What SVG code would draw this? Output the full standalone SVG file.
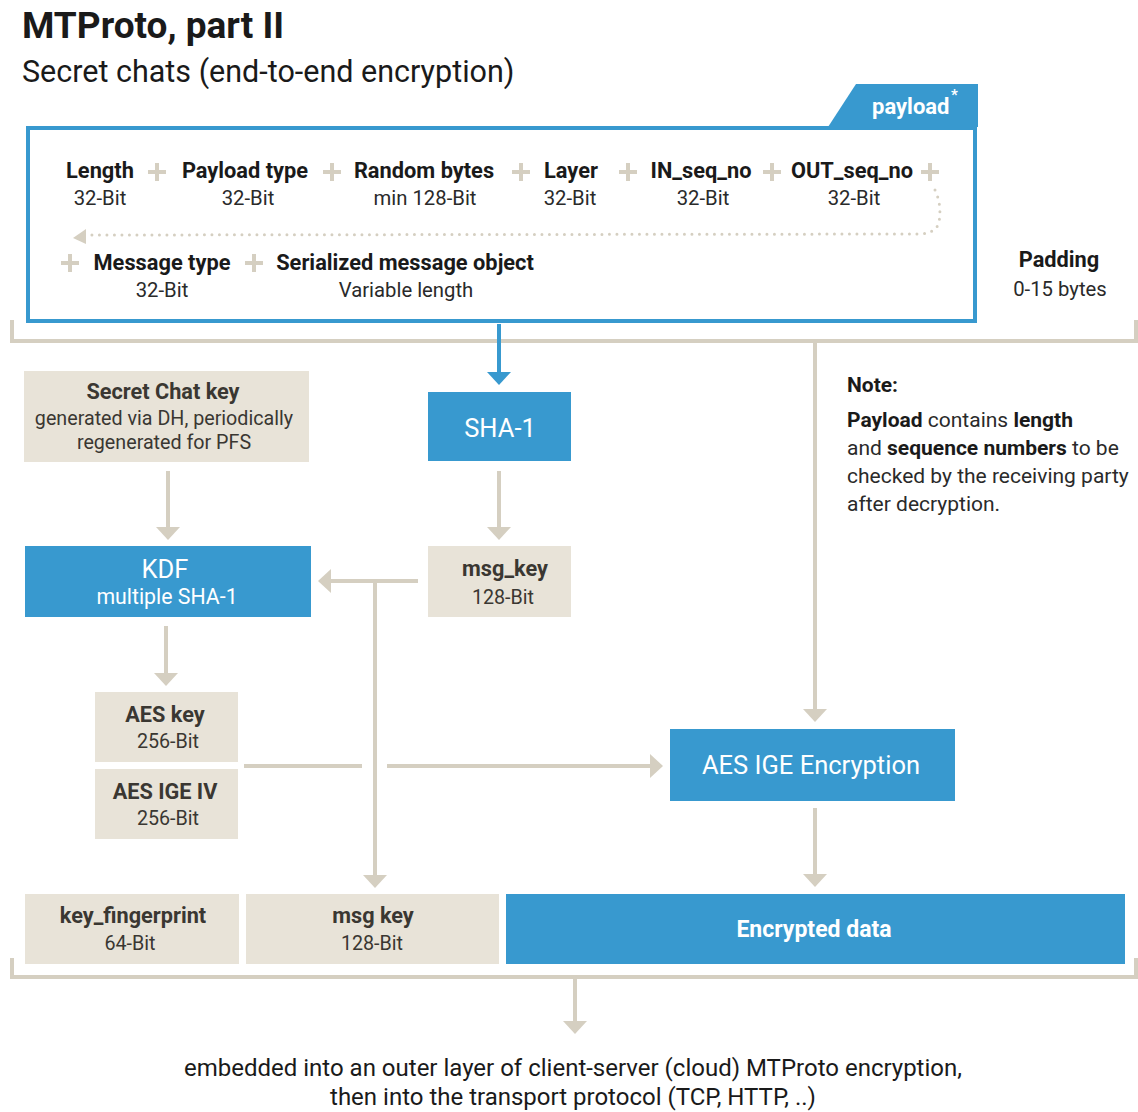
<svg xmlns="http://www.w3.org/2000/svg" width="1138" height="1112" viewBox="0 0 1138 1112">
<style>
text{font-family:Roboto,"Liberation Sans",sans-serif;}
.ttl{font-size:37px;font-weight:bold;fill:#1a1a1a;}
.sub{font-size:30.5px;fill:#1a1a1a;}
.lb{font-size:21.8px;font-weight:bold;fill:#1a1a1a;text-anchor:middle;}
.sm{font-size:20.3px;fill:#2a2a2a;text-anchor:middle;}
.tb{font-size:21.7px;font-weight:bold;fill:#3a3732;text-anchor:middle;}
.ts{font-size:19.7px;fill:#3a3732;text-anchor:middle;}
.wb{font-size:25.5px;fill:#fff;text-anchor:middle;}
.wd{font-size:23px;font-weight:bold;fill:#fff;text-anchor:middle;}
.ws{font-size:21.3px;fill:#fff;text-anchor:middle;}
.note{font-size:21px;fill:#2a2a2a;}
.b{font-weight:bold;fill:#1a1a1a;}
.tan{fill:#e8e3d8;}
.blue{fill:#3899cf;}
.ln{stroke:#d5cfc1;stroke-width:4;fill:none;}
.plus{stroke:#d5cfc1;stroke-width:4;fill:none;}
.bot{font-size:24px;fill:#1a1a1a;text-anchor:middle;}
</style>
<defs>
<marker id="at" markerUnits="userSpaceOnUse" viewBox="0 0 13 24" markerWidth="13" markerHeight="24" refX="0" refY="12" orient="auto"><path d="M0,0 L13,12 L0,24 z" fill="#d5cfc1"/></marker>
<marker id="ab" markerUnits="userSpaceOnUse" viewBox="0 0 13 24" markerWidth="13" markerHeight="24" refX="0" refY="12" orient="auto"><path d="M0,0 L13,12 L0,24 z" fill="#3899cf"/></marker>
</defs>
<rect width="1138" height="1112" fill="#fff"/>
<text class="ttl" x="22" y="38">MTProto, part II</text>
<text class="sub" x="22" y="82">Secret chats (end-to-end encryption)</text>

<g id="connectors">
<path class="ln" d="M12,320 V341 H1136 V320"/>
<path class="ln" d="M12,958 V977 H1136 V958"/>
<path d="M499,324 V372" stroke="#3899cf" stroke-width="4" fill="none" marker-end="url(#ab)"/>
<path class="ln" d="M168,471 V527" marker-end="url(#at)"/>
<path class="ln" d="M499,471 V527" marker-end="url(#at)"/>
<path class="ln" d="M418,581 H331" marker-end="url(#at)"/>
<path class="ln" d="M375,581 V875" marker-end="url(#at)"/>
<path class="ln" d="M166,626 V673" marker-end="url(#at)"/>
<path class="ln" d="M244,766 H362"/>
<path class="ln" d="M387,766 H650" marker-end="url(#at)"/>
<path class="ln" d="M815,341 V709" marker-end="url(#at)"/>
<path class="ln" d="M815,808 V874" marker-end="url(#at)"/>
<path class="ln" d="M575,977 V1021" marker-end="url(#at)"/>
</g>

<g id="payload">
<path d="M828,127 L856,84 H978 V127 z" class="blue"/>
<rect x="28" y="128" width="947" height="193" fill="none" stroke="#3899cf" stroke-width="4"/>
<text x="872" y="114" font-size="22" font-weight="bold" fill="#fff">payload</text>
<text x="951" y="100" font-size="15" font-weight="bold" fill="#fff">*</text>
<text class="lb" x="100" y="178">Length</text><text class="sm" x="100" y="205">32-Bit</text>
<text class="lb" x="245" y="178">Payload type</text><text class="sm" x="248" y="205">32-Bit</text>
<text class="lb" x="424" y="178">Random bytes</text><text class="sm" x="425" y="205">min 128-Bit</text>
<text class="lb" x="571" y="178">Layer</text><text class="sm" x="570" y="205">32-Bit</text>
<text class="lb" x="701" y="178">IN_seq_no</text><text class="sm" x="703" y="205">32-Bit</text>
<text class="lb" x="852" y="178">OUT_seq_no</text><text class="sm" x="854" y="205">32-Bit</text>
<path class="plus" d="M148,172 H166 M157,163 V181 M323,172 H341 M332,163 V181 M512,172 H530 M521,163 V181 M619,172 H637 M628,163 V181 M763,172 H781 M772,163 V181 M921,172 H939 M930,163 V181 M61,263 H79 M70,254 V272 M245,263 H263 M254,254 V272"/>
<path d="M935,190 Q942,205 939,222 Q936,234 918,234 L88,235" stroke="#d5cfc1" stroke-width="3" fill="none" stroke-linecap="round" stroke-dasharray="0 7.5"/>
<path d="M73,238 L86,229 L86,244 z" fill="#d5cfc1"/>
<text class="lb" x="162" y="270">Message type</text><text class="sm" x="162" y="297">32-Bit</text>
<text class="lb" x="405" y="270">Serialized message object</text><text class="sm" x="406" y="297">Variable length</text>
</g>

<g id="padding">
<text class="lb" x="1059" y="267">Padding</text>
<text class="sm" x="1060" y="296">0-15 bytes</text>
</g>

<g id="secret-chat-key">
<rect class="tan" x="24" y="371" width="285" height="91"/>
<text class="tb" x="163" y="399">Secret Chat key</text>
<text class="ts" x="164" y="425">generated via DH, periodically</text>
<text class="ts" x="164" y="449">regenerated for PFS</text>
</g>

<g id="sha1">
<rect class="blue" x="428" y="392" width="143" height="69"/>
<text class="wb" x="500" y="437">SHA-1</text>
</g>

<g id="note">
<text class="note b" x="847" y="392">Note:</text>
<text class="note" x="847" y="427"><tspan class="b">Payload</tspan> contains <tspan class="b">length</tspan></text>
<text class="note" x="847" y="455">and <tspan class="b">sequence numbers</tspan> to be</text>
<text class="note" x="847" y="483">checked by the receiving party</text>
<text class="note" x="847" y="511">after decryption.</text>
</g>

<g id="kdf">
<rect class="blue" x="25" y="546" width="286" height="71"/>
<text class="wb" x="165" y="578">KDF</text>
<text class="ws" x="167" y="604">multiple SHA-1</text>
</g>

<g id="msg_key">
<rect class="tan" x="428" y="546" width="143" height="71"/>
<text class="tb" x="505" y="576">msg_key</text>
<text class="ts" x="503" y="604">128-Bit</text>
</g>

<g id="aes-key">
<rect class="tan" x="95" y="692" width="143" height="70"/>
<text class="tb" x="165" y="722">AES key</text>
<text class="ts" x="168" y="748">256-Bit</text>
</g>

<g id="aes-iv">
<rect class="tan" x="95" y="769" width="143" height="70"/>
<text class="tb" x="165" y="799">AES IGE IV</text>
<text class="ts" x="168" y="825">256-Bit</text>
</g>

<g id="aes-enc">
<rect class="blue" x="670" y="729" width="285" height="72"/>
<text class="wb" x="811" y="774">AES IGE Encryption</text>
</g>

<g id="key-fingerprint">
<rect class="tan" x="25" y="894" width="214" height="70"/>
<text class="tb" x="133" y="923">key_fingerprint</text>
<text class="ts" x="130" y="950">64-Bit</text>
</g>

<g id="msg-key-out">
<rect class="tan" x="246" y="894" width="253" height="70"/>
<text class="tb" x="373" y="923">msg key</text>
<text class="ts" x="372" y="950">128-Bit</text>
</g>

<g id="encrypted-data">
<rect class="blue" x="506" y="894" width="619" height="70"/>
<text class="wd" x="814" y="937">Encrypted data</text>
</g>

<g id="footer">
<text class="bot" x="573" y="1076">embedded into an outer layer of client-server (cloud) MTProto encryption,</text>
<text class="bot" x="573" y="1105">then into the transport protocol (TCP, HTTP, ..)</text>
</g>
</svg>
